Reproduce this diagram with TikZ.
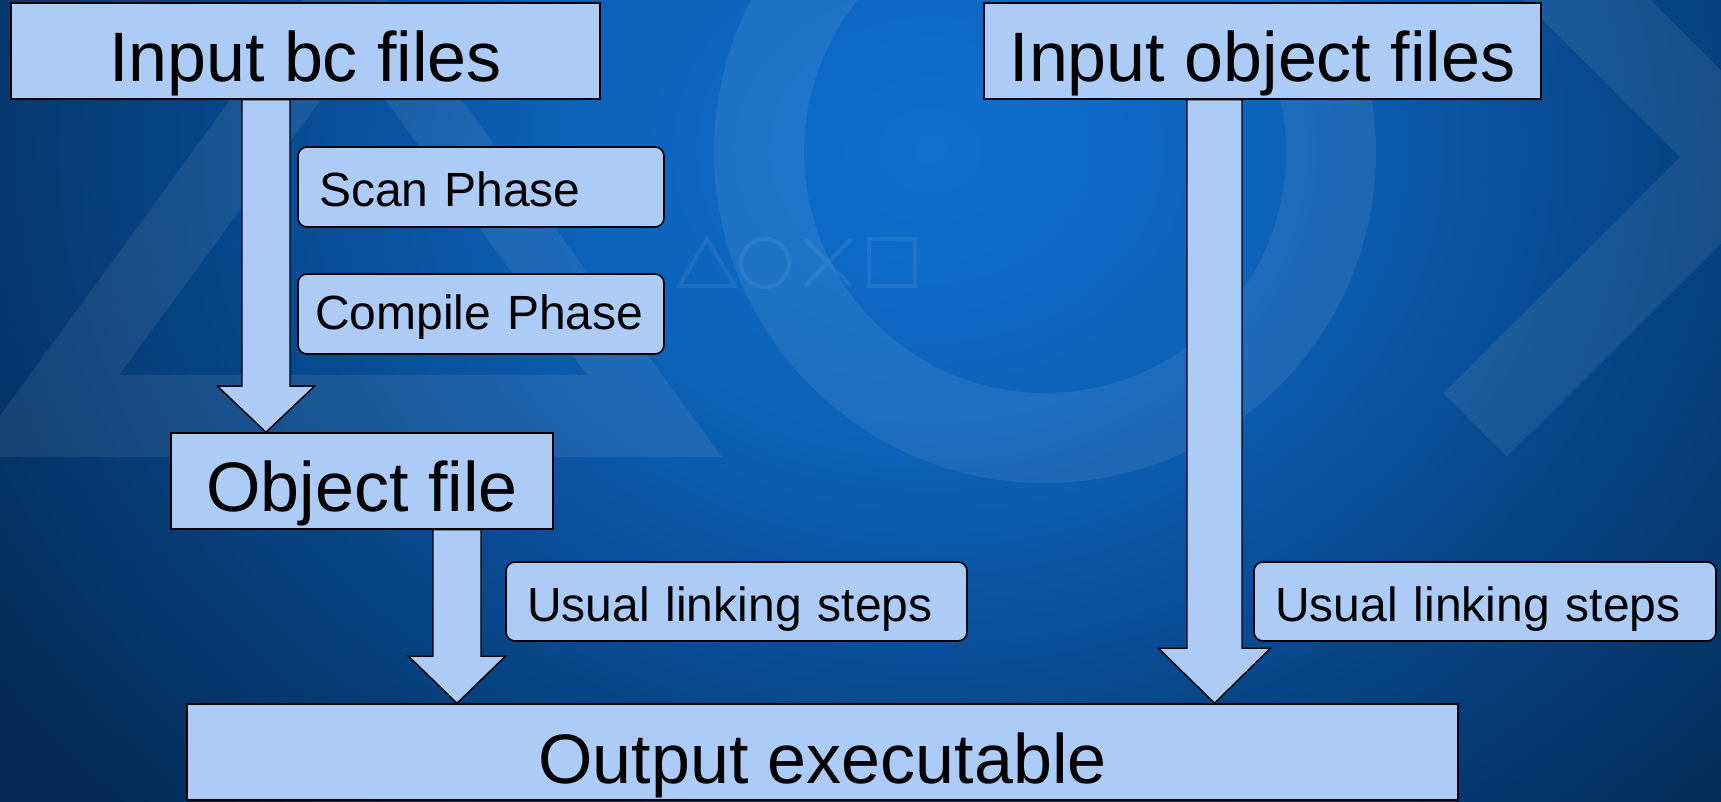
\documentclass[tikz,border=0pt]{standalone}
\usepackage{fontspec}
\setmainfont{Liberation Sans}
\usetikzlibrary{calc}

\definecolor{boxblue}{RGB}{173,203,247}

% soft blue glow of the slide background
\pgfdeclareradialshading{slideglow}{\pgfpoint{0bp}{0bp}}{%
  rgb(0bp)=(0.06,0.44,0.82);
  rgb(8bp)=(0.05,0.38,0.72);
  rgb(16bp)=(0.03,0.27,0.53);
  rgb(25bp)=(0.012,0.165,0.33);
  rgb(50bp)=(0.012,0.165,0.33)}

\pgfdeclarelayer{backdrop}
\pgfdeclarelayer{links}
\pgfsetlayers{backdrop,links,main}

\tikzset{
  watermark/.style={white, opacity=0.075},
  bigbox/.style={draw=black, fill=boxblue, line width=1.6pt,
    font=\fontsize{70}{72}\selectfont, inner sep=0pt,
    minimum height=96pt, text height=62pt, text depth=0pt},
  phasebox/.style={draw=black, fill=boxblue, line width=1.6pt,
    rounded corners=9pt, font=\fontsize{48}{50}\selectfont,
    align=left, inner xsep=21pt, inner ysep=0pt,
    minimum height=80pt, text height=40pt, text depth=0pt},
  blockarrow/.style={draw=black, fill=boxblue, line width=1.4pt,
    line join=miter},
}

% #1 x of the shaft axis, #2 source node, #3 target node,
% #4 half shaft width, #5 half head width, #6 head length
\newcommand\fatarrow[6]{%
  \draw[blockarrow] let \p1=(#2.south), \p2=(#3.north) in
    (#1pt-#4pt,\y1) -- (#1pt-#4pt,\y2+#6pt) -- (#1pt-#5pt,\y2+#6pt)
    -- (#1pt,\y2) -- (#1pt+#5pt,\y2+#6pt) -- (#1pt+#4pt,\y2+#6pt)
    -- (#1pt+#4pt,\y1) -- cycle;}

\begin{document}
\begin{tikzpicture}[x=1pt,y=1pt]
\useasboundingbox (0,0) rectangle (1721,801);

% ---- background ----
\begin{pgfonlayer}{backdrop}
\begin{scope}
  \clip (0,0) rectangle (1721,801);
  \shade[shading=slideglow] (-220,-299) rectangle (2080,1601);
  % big triangle outline
  \fill[watermark, even odd rule]
    (-30,344) -- (722,344) -- (346,860) -- cycle
    (119,426) -- (587,426) -- (353,745) -- cycle;
  % big ring
  \draw[watermark, line width=90pt] (1045,649) circle[radius=286];
  % chevron
  \draw[watermark, line width=90pt, line cap=butt, line join=miter]
    (1475,912) -- (1744,644) -- (1475,376);
  % small symbol row
  \begin{scope}[white, opacity=0.07, line width=4pt]
    \draw (679,515) -- (735,515) -- (707,562) -- cycle;
    \draw (765,538) circle[radius=24];
    \draw (805,562) -- (851,515) (805,515) -- (851,562);
    \draw (869,515) rectangle (915,562);
  \end{scope}
\end{scope}
\end{pgfonlayer}

% ---- boxes ----
\node[bigbox, minimum width=589pt] (inbc)  at (305.5,750) {Input bc files};
\node[bigbox, minimum width=557pt] (inobj) at (1262.5,750) {Input object files};
\node[bigbox, minimum width=382pt] (obj)   at (362,320) {Object file};
\node[bigbox, minimum width=1271pt] (out)  at (822.5,49) {Output executable};

\node[phasebox, text width=324pt] (scan) at (481,614) {Scan Phase};
\node[phasebox, text width=332pt, inner xsep=17pt, text height=32pt]
  (compile) at (481,487) {Compile Phase};
\node[phasebox, text width=419pt, minimum height=79pt, text height=41pt]
  (link1) at (736.5,199.5) {Usual linking steps};
\node[phasebox, text width=420pt, minimum height=79pt, text height=41pt]
  (link2) at (1485,199.5) {Usual linking steps};

% ---- flow arrows ----
\begin{pgfonlayer}{links}
  \fatarrow{266}{inbc}{obj}{24}{48.5}{46}
  \fatarrow{457}{obj}{out}{24}{48.5}{47}
  \fatarrow{1214.5}{inobj}{out}{27.5}{56}{55}
\end{pgfonlayer}
\end{tikzpicture}
\end{document}
